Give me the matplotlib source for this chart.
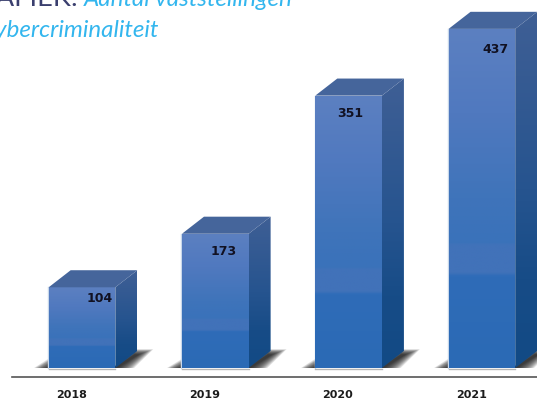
import numpy as np
import matplotlib
matplotlib.use("Agg")
import matplotlib.pyplot as plt
from matplotlib.colors import LinearSegmentedColormap
from matplotlib.patches import Polygon

years = ["2018", "2019", "2020", "2021"]
counts = [104, 173, 351, 437]

# label offsets inside the bars (same oddly placed labels as the original)
label_dx = [0.135, 0.06, 0.01, 0.105]
label_dy = [14, 23, 23, 26]

width = 0.5
depth_x = 0.165
depth_y = 22

front_cmap = LinearSegmentedColormap.from_list("front", [
    (0.0, "#5c80c1"), (0.25, "#5079bf"), (0.5, "#3f74ba"), (0.63, "#3a72ba"), (0.64, "#4172b9"),
    (0.72, "#4172b9"), (0.73, "#2f6cb8"), (1.0, "#2b6ab5")])
side_cmap = LinearSegmentedColormap.from_list("side", [
    (0.0, "#3f5f95"), (0.5, "#26548f"), (0.75, "#174c87"), (1.0, "#124a85")])


def fill_gradient(ax, pts, cmap, x0, x1, y0, y1):
    poly = Polygon(pts, closed=True, facecolor="none", edgecolor="none")
    ax.add_patch(poly)
    grad = np.linspace(0, 1, 256).reshape(-1, 1)
    im = ax.imshow(grad, cmap=cmap, extent=[x0, x1, y0, y1], aspect="auto",
                   origin="upper", zorder=3, interpolation="bilinear")
    im.set_clip_path(poly)


fig = plt.figure(figsize=(5.37, 4.03), dpi=100)
ax = fig.add_axes([0, 0, 1, 1])
ax.axis("off")

for i, val in enumerate(counts):
    l = i - width / 2
    r = i + width / 2

    # shadow on the floor, many faint layers to fake the blur
    for grow in np.linspace(1.0, 0.1, 14):
        top = depth_y * (0.75 + 0.35 * grow)
        ax.add_patch(Polygon([(r - 0.02, 0), (r + 0.14 * grow, 0),
                              (r + depth_x + 0.12 * grow, top),
                              (r + depth_x - 0.02, top)],
                             closed=True, facecolor="#1a1a1a", alpha=0.12,
                             edgecolor="none", zorder=1))
        ax.add_patch(Polygon([(l - 0.11 * grow, 0), (l + 0.02, 0), (l + 0.02, 14 * grow)],
                             closed=True, facecolor="#1a1a1a", alpha=0.12,
                             edgecolor="none", zorder=1))
    ax.plot([l - 0.004, l - 0.004], [0, val], color="#c9d8ea", lw=1, zorder=2)
    ax.plot([l, r], [-1.5, -1.5], color="#b5b5b5", lw=1, zorder=2)

    fill_gradient(ax, [(r, 0), (r + depth_x, depth_y), (r + depth_x, val + depth_y), (r, val)],
                  side_cmap, r, r + depth_x, 0, val + depth_y)
    fill_gradient(ax, [(l, 0), (r, 0), (r, val), (l, val)], front_cmap,
                  l, r, 0, val)
    ax.add_patch(Polygon([(l, val), (r, val), (r + depth_x, val + depth_y),
                          (l + depth_x, val + depth_y)],
                         closed=True, facecolor="#45659b", edgecolor="none", zorder=3))

    ax.text(i + label_dx[i], val - label_dy[i], str(val), ha="center", va="center",
            fontsize=9, fontweight="bold", family="DejaVu Sans", color="#111122", zorder=5)
    ax.text(i - 0.08, -35, years[i], ha="center", va="center",
            fontsize=8, fontweight="bold", family="DejaVu Sans", color="#1c1c1c")

ax.plot([-0.525, 3.5], [-11.5, -11.5], color="#555555", lw=1.2, zorder=2)

ax.set_xlim(-82 / 133.3, 455 / 133.3)
ax.set_ylim(-35 / 0.776, 368 / 0.776)

# heading, cut off by the edge of the picture like in the original
fig.text(293 / 537, 1 - 6 / 403, "Aantal vaststellingen", ha="right", va="baseline",
         fontsize=17.4, family="Lato", style="italic", color="#33b6ee")
fig.text(78 / 537, 1 - 6 / 403, "GRAFIEK:", ha="right", va="baseline",
         fontsize=19.5, family="Lato", color="#3a3f6e")
fig.text(159 / 537, 1 - 37 / 403, "cybercriminaliteit", ha="right", va="baseline",
         fontsize=17.4, family="Lato", style="italic", color="#33b6ee")

fig.savefig("out.png", dpi=100)
